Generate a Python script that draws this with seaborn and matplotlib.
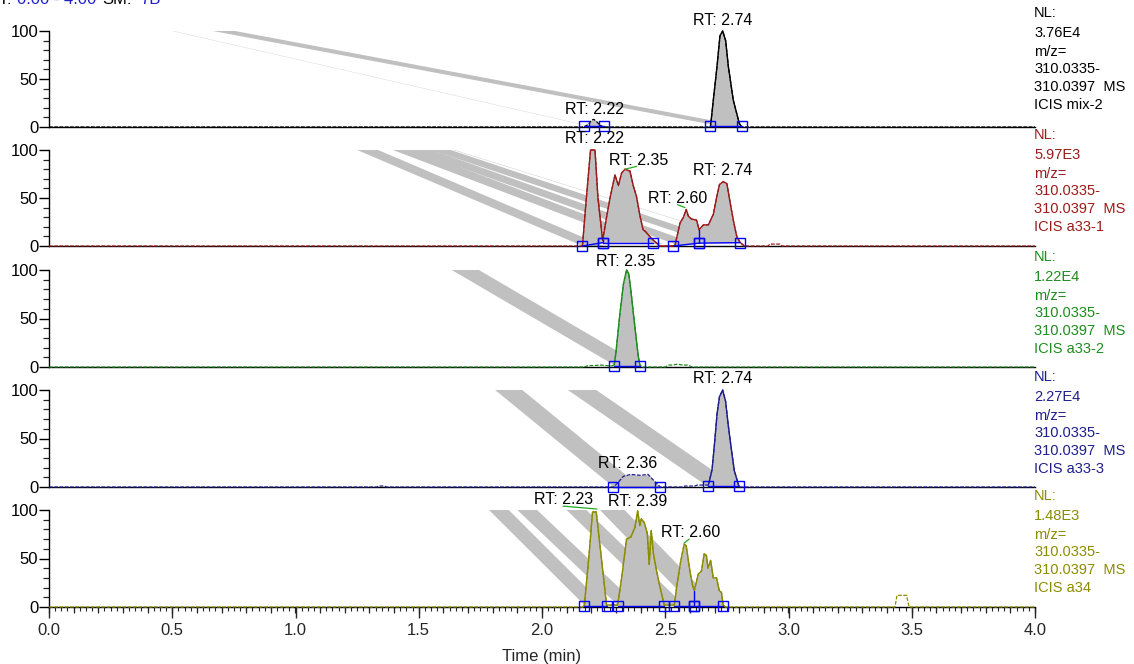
import numpy as np
import matplotlib
matplotlib.use("Agg")
import matplotlib.pyplot as plt
import seaborn as sns

# ------------------------------------------------------------------ data
names = ["mix-2", "a33-1", "a33-2", "a33-3", "a34"]
nl_values = ["3.76E4", "5.97E3", "1.22E4", "2.27E4", "1.48E3"]
mz_low = "310.0335-"
mz_high = "310.0397  MS"
colors = ["#000000", "#9B1B1B", "#1E8C1E", "#1E1E8C", "#8C8C00"]

# traces (time in min, relative abundance %)
t_mix2 = [0.0, 2.17, 2.19, 2.20, 2.21, 2.22, 2.235, 2.25, 2.683, 2.688, 2.695, 2.71,
          2.722, 2.733, 2.745, 2.756, 2.776, 2.793, 2.80, 2.81, 4.0]
v_mix2 = [0, 0, 3, 7, 8, 6, 2, 0, 0, 11, 28, 63, 95, 100, 90, 63, 28, 11, 4, 0, 0]

t_a331 = [0.0, 2.164, 2.18, 2.197, 2.215, 2.227, 2.246, 2.262, 2.276, 2.296, 2.31, 2.323,
          2.337, 2.357, 2.37, 2.383, 2.397, 2.41, 2.42, 2.44, 2.452, 2.478, 2.533, 2.54,
          2.56, 2.574, 2.585, 2.594, 2.607, 2.627, 2.637, 2.655, 2.675, 2.695, 2.708,
          2.72, 2.735, 2.75, 2.76, 2.776, 2.79, 2.803, 2.82, 2.917, 2.925, 2.965, 2.973, 4.0]
v_a331 = [0, 0, 50, 100, 100, 50, 6, 30, 50, 74, 63, 76,
          80, 78, 63, 52, 32, 17, 15, 9, 6, 0, 0, 1,
          24, 30, 38, 31, 28, 27, 17, 22, 22, 33, 50,
          64, 67, 65, 50, 27, 10, 4, 0, 0, 2, 2, 0, 0]

t_a332 = [0.0, 2.17, 2.19, 2.21, 2.24, 2.26, 2.28, 2.293, 2.30, 2.314, 2.33, 2.343, 2.352,
          2.36, 2.373, 2.39, 2.397, 2.41, 2.50, 2.515, 2.53, 2.55, 2.57, 2.59, 2.61, 4.0]
v_a332 = [0, 0, 1.5, 1.5, 2, 1.5, 1, 2, 15, 50, 85, 100, 96,
          80, 50, 12, 2, 0, 0, 2, 2, 3, 2, 2, 0, 0]

t_a333 = [0.0, 1.33, 1.34, 1.36, 1.37, 2.29, 2.31, 2.33, 2.36, 2.40, 2.43, 2.46, 2.48,
          2.57, 2.58, 2.62, 2.63, 2.675, 2.69, 2.70, 2.71, 2.72, 2.733, 2.745, 2.755,
          2.765, 2.78, 2.795, 2.80, 4.0]
v_a333 = [0, 0, 1, 1, 0, 0, 5, 11, 13, 12, 13, 5, 0,
          0, 1, 1, 2, 2, 18, 45, 75, 93, 100, 88, 65,
          45, 17, 4, 0, 0]

t_a34 = [0.0, 2.165, 2.172, 2.19, 2.205, 2.22, 2.262, 2.307, 2.323, 2.343, 2.36, 2.377,
         2.388, 2.397, 2.403, 2.415, 2.427, 2.435, 2.443, 2.452, 2.465, 2.479, 2.496,
         2.537, 2.546, 2.562, 2.577, 2.585, 2.60, 2.611, 2.618, 2.634, 2.647, 2.658,
         2.667, 2.673, 2.684, 2.695, 2.708, 2.719, 2.728, 2.735, 2.745, 3.432, 3.44,
         3.479, 3.489, 4.0]
v_a34 = [0, 0, 2, 51, 98, 98, 2, 2, 30, 70, 72, 82,
         99, 84, 91, 87, 76, 44, 79, 55, 37, 20, 2,
         2, 20, 46, 65, 63, 37, 22, 17, 34, 37, 55,
         53, 40, 48, 30, 30, 17, 15, 2, 0, 0, 12,
         12, 0, 0]

traces_t = [t_mix2, t_a331, t_a332, t_a333, t_a34]
traces_v = [v_mix2, v_a331, v_a332, v_a333, v_a34]

# windows where the trace is drawn solid
solid_windows = [[(2.683, 2.81)],
                 [(2.164, 2.82)],
                 [(2.293, 2.397)],
                 [(2.675, 2.80)],
                 [(2.165, 2.745)]]

# integrated peaks: (t_start, base_start, t_end, base_end)
peaks = [[(2.17, 1, 2.25, 1), (2.683, 1, 2.81, 1)],
         [(2.164, 0, 2.246, 3.5), (2.246, 3.5, 2.452, 3.5),
          (2.533, 0, 2.637, 3), (2.637, 3, 2.803, 3.5)],
         [(2.293, 1, 2.397, 1)],
         [(2.29, 0.5, 2.48, 0.5), (2.675, 1, 2.80, 1)],
         [(2.172, 1, 2.262, 1), (2.307, 1, 2.496, 1),
          (2.537, 1, 2.618, 1), (2.618, 1, 2.735, 1)]]

# vertical peak splits (time)
splits = [[], [2.246, 2.637], [], [], [2.618]]

# RT labels: (text, time, level)
rt_labels = [[("RT: 2.74", 2.732, 106), ("RT: 2.22", 2.215, 14)],
             [("RT: 2.22", 2.215, 107), ("RT: 2.35", 2.39, 84),
              ("RT: 2.60", 2.55, 45), ("RT: 2.74", 2.732, 74)],
             [("RT: 2.35", 2.34, 104)],
             [("RT: 2.74", 2.732, 107), ("RT: 2.36", 2.346, 19.5)],
             [("RT: 2.23", 2.087, 106), ("RT: 2.39", 2.387, 104), ("RT: 2.60", 2.604, 72.5)]]

# short label connectors (t0, y0, t1, y1)
connectors = [[],
              [(2.337, 80, 2.385, 83), (2.55, 43, 2.58, 40)],
              [],
              [],
              [(2.085, 104, 2.223, 101), (2.577, 66, 2.597, 70)]]

# gray diagonal ghost bands: (t_top, t_bottom, level_bottom, width)
bands = [[(0.50, 2.17, 2, 0.005), (0.665, 2.68, 3, 0.09)],
         [(1.25, 2.165, 0, 0.085), (1.395, 2.40, 2, 0.09), (1.47, 2.54, 2, 0.085),
          (1.55, 2.68, 3, 0.08), (1.64, 2.70, 15, 0.005)],
         [(1.634, 2.293, 2, 0.11)],
         [(1.81, 2.29, 0, 0.11), (2.105, 2.675, 0, 0.115)],
         [(1.785, 2.172, 2, 0.08), (1.90, 2.307, 2, 0.08), (2.10, 2.496, 2, 0.08),
          (2.235, 2.61, 2, 0.10)]]

x_ticks = [0.0, 0.5, 1.0, 1.5, 2.0, 2.5, 3.0, 3.5, 4.0]
y_ticks = [0, 50, 100]

# ------------------------------------------------------------------ style
sns.set_style("white")
plt.rcParams['font.family'] = ['Liberation Sans', 'DejaVu Sans']

W, H = 1134, 664
fig = plt.figure(figsize=(W / 100, H / 100), dpi=100)

panel_px = [(31, 127), (150, 246), (270, 367), (390, 487), (510, 607)]
text_y0 = [13, 135, 257, 377, 496]
x0_px, x1_px = 49, 1035
GRAY = "#C0C0C0"
BLUE = "#0000FF"

axes = []
for i, (top, bot) in enumerate(panel_px):
    ax = fig.add_axes([x0_px / W, 1 - bot / H, (x1_px - x0_px) / W, (bot - top) / H])
    axes.append(ax)
    color = colors[i]
    t = np.array(traces_t[i], float)
    v = np.array(traces_v[i], float)

    ax.set_xlim(0, 4)
    ax.set_ylim(0, 100)

    # ghost bands
    for (tt, tb, yb, w) in bands[i]:
        ax.fill([tt, tt + w, tb + w, tb], [100, 100, yb, yb], color=GRAY, lw=0, zorder=1)

    # peak fills
    for (a, ya, b, yb) in peaks[i]:
        m = (t >= a - 1e-9) & (t <= b + 1e-9)
        base = np.interp(t[m], [a, b], [ya, yb])
        ax.fill_between(t[m], base, v[m], color=GRAY, lw=0, zorder=2)

    # trace: dashed everywhere, solid in peak windows
    sns.lineplot(x=t, y=v, ax=ax, color=color, lw=0.9, estimator=None,
                 linestyle=(0, (3, 1.2)), zorder=3)
    for (a, b) in solid_windows[i]:
        m = (t >= a - 1e-9) & (t <= b + 1e-9)
        sns.lineplot(x=t[m], y=v[m], ax=ax, color=color, lw=1.0, estimator=None, zorder=4)
    for ln in ax.lines:
        ln.set_clip_on(False)

    # integration baselines and markers
    for (a, ya, b, yb) in peaks[i]:
        ax.plot([a, b], [ya, yb], color=BLUE, lw=1.0, zorder=5, clip_on=False)
        ax.plot([a, b], [ya, yb], ls="none", marker="s", ms=6.5, mfc="none",
                mec=BLUE, mew=1.0, zorder=6, clip_on=False)
    for s in splits[i]:
        ax.plot([s, s], [np.interp(s, [p[0] for p in peaks[i]], [p[1] for p in peaks[i]]),
                         np.interp(s, t, v)], color=BLUE, lw=1.0, zorder=5)

    # connectors
    for (a, ya, b, yb) in connectors[i]:
        ax.plot([a, b], [ya, yb], color="#22AA22", lw=0.9, zorder=5, clip_on=False)

    # RT labels
    for (txt, xt, yt) in rt_labels[i]:
        ax.text(xt, yt, txt, ha="center", va="baseline", fontsize=11.5, color="black",
                zorder=7, clip_on=False)

    # axes styling
    for sp in ["top", "right"]:
        ax.spines[sp].set_visible(False)
    ax.spines["left"].set_linewidth(1.0)
    ax.spines["bottom"].set_linewidth(1.0)
    ax.spines["left"].set_color("black")
    ax.spines["bottom"].set_color("black")
    ax.set_yticks(y_ticks)
    ax.set_yticklabels([str(y) for y in y_ticks])
    ax.set_yticks(np.arange(0, 101, 10), minor=True)
    ax.tick_params(axis="y", which="major", direction="out", length=7.2, width=1.0,
                   labelsize=12, pad=0.5, left=True, colors="black")
    ax.tick_params(axis="y", which="minor", direction="out", length=4.0, width=0.9, left=True)
    ax.set_xlabel("")
    ax.set_ylabel("")
    if i < 4:
        ax.tick_params(axis="x", which="both", bottom=False, labelbottom=False)
    else:
        ax.set_xticks(x_ticks)
        ax.set_xticklabels([f"{x:.1f}" for x in x_ticks])
        ax.set_xticks(np.arange(0, 4.001, 0.025), minor=True)
        ax.tick_params(axis="x", which="major", direction="out", length=7.7, width=1.0,
                       labelsize=12, pad=4, bottom=True)
        ax.tick_params(axis="x", which="minor", direction="out", length=2.6, width=0.8,
                       bottom=True)
        sec = ax.secondary_xaxis("bottom")
        sec.set_xticks(np.arange(0, 4.001, 0.1))
        sec.tick_params(axis="x", direction="out", length=4.5, width=0.9, labelbottom=False)
        for sp in sec.spines.values():
            sp.set_visible(False)
        ax.set_xlabel("Time (min)", fontsize=12, labelpad=8)
    ax.set_facecolor("none")

    # right-side annotation
    y0 = text_y0[i]
    lines = [("NL:", 0), (nl_values[i], 20), ("m/z=", 39), (mz_low, 56), (mz_high, 74),
             (f"ICIS {names[i]}", 92)]
    for txt, dy in lines:
        fig.text(1034 / W, 1 - (y0 + dy) / H, txt, ha="left", va="center",
                 fontsize=10.5, color=color)

# header (partly cut off at the top, as in the reference)
hy = 1 - 4 / H
fig.text(12 / W, hy, "RT:", ha="right", va="baseline", fontsize=12, color="black")
fig.text(17 / W, hy, "0.00 - 4.00", ha="left", va="baseline", fontsize=12, color="#1E1EC8")
fig.text(102 / W, hy, "SM:", ha="left", va="baseline", fontsize=12, color="black")
fig.text(140 / W, hy, "7B", ha="left", va="baseline", fontsize=12, color="#1E1EC8")

fig.savefig("out.png", dpi=100, facecolor="white")
